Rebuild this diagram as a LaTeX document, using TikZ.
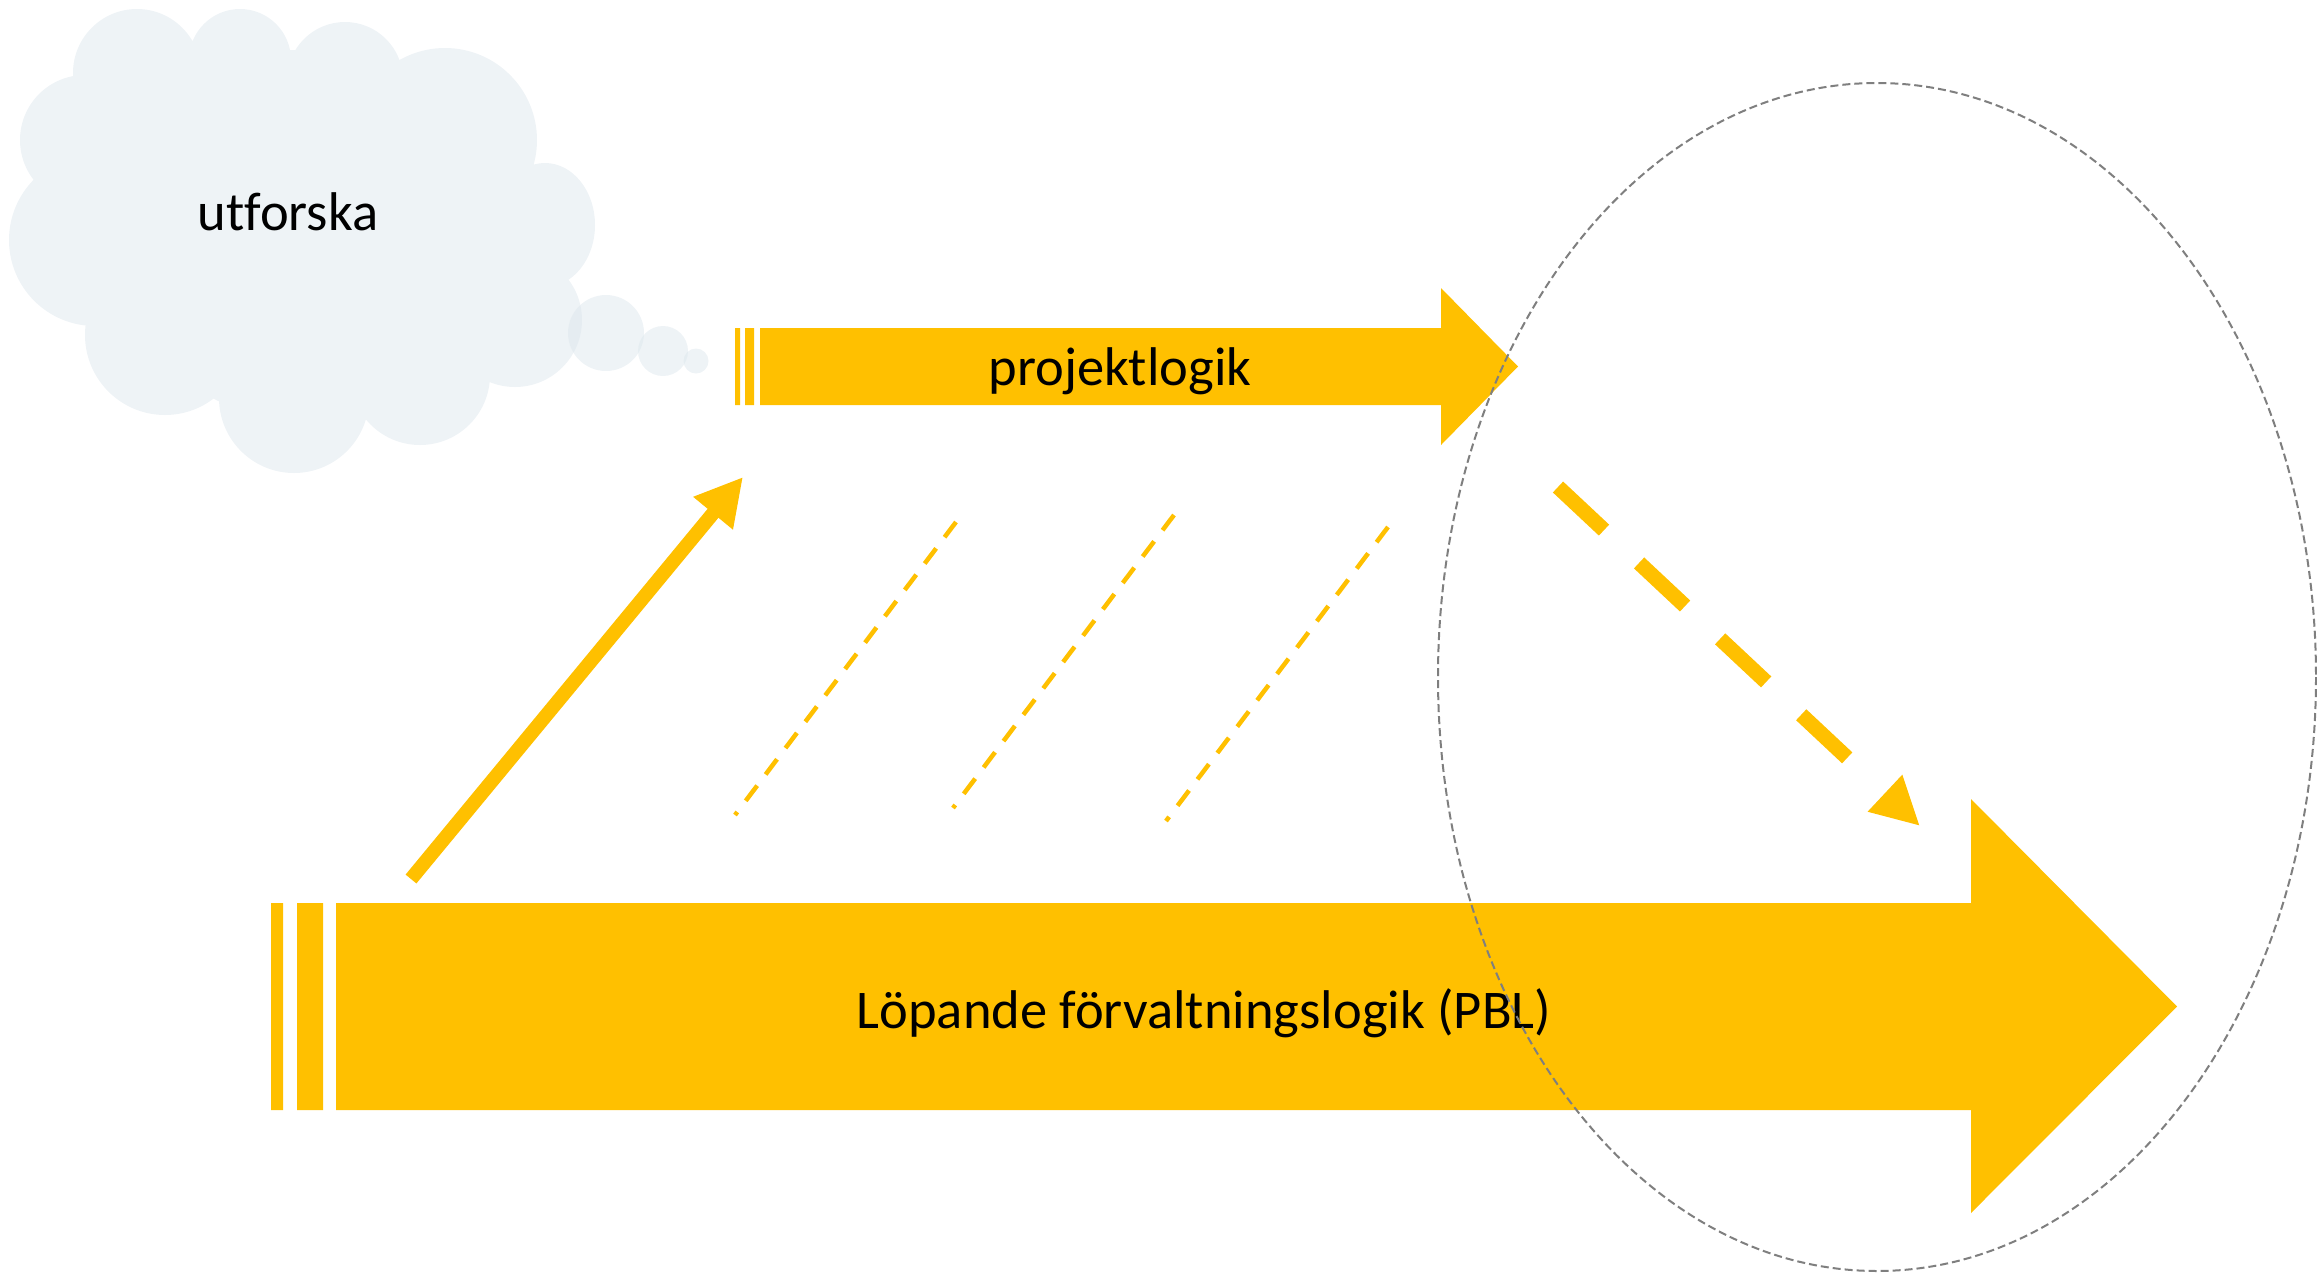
\documentclass[tikz,border=0pt]{standalone}
\usepackage{fontspec}
\setmainfont{Carlito}[Ligatures=CommonOff]
\usetikzlibrary{arrows.meta}
\definecolor{gold}{HTML}{FFC000}
\definecolor{cloudgrey}{HTML}{EEF3F6}
\definecolor{bubblegrey}{HTML}{DDE7ED}
\definecolor{ringgrey}{HTML}{7F7F7F}
\begin{document}
\begin{tikzpicture}[x=0.01cm,y=-0.01cm,
    lbl/.style={font=\fontsize{15.5}{18}\selectfont},
    bubble/.style={fill=bubblegrey,opacity=0.5},
    hatch/.style={gold,line width=0.045cm,dash pattern=on 0.19cm off 0.14cm}]
    \useasboundingbox (0,0) rectangle (2317,1275);
    \fill[cloudgrey] (137,73) circle[radius=64] (240,60) circle[radius=51] (345,80) circle[radius=58]
        (445,140) circle[radius=92] (545,225) ellipse[x radius=50,y radius=62] (515,320) circle[radius=67]
        (420,375) circle[radius=70] (294,398) circle[radius=75] (165,335) circle[radius=80]
        (95,240) circle[radius=86] (85,140) circle[radius=65] (300,235) circle[radius=185] (450,250) circle[radius=100];
    \fill[bubble] (606,333) circle[radius=38];
    \fill[bubble] (663,351) circle[radius=25];
    \fill[bubble] (696,361) circle[radius=12.5];
    \node[lbl] (utf) at (288,212) {utforska};
    \fill[gold] (735,328) rectangle (740,405) (745,328) rectangle (754,405);
    \fill[gold] (760,328) -- (1441,328) -- (1441,288) -- (1518,366.5) -- (1441,445) -- (1441,405) -- (760,405) -- cycle;
    \node[lbl] (proj) at (1120,371) {projektlogik};
    \fill[gold] (271,903) rectangle (283,1110) (297,903) rectangle (323,1110);
    \fill[gold] (336,903) -- (1971,903) -- (1971,799) -- (2177,1006.5) -- (1971,1213) -- (1971,1110) -- (336,1110) -- cycle;
    \node[lbl] (pbl) at (1204,1013) {Löpande förvaltningslogik (PBL)};
    \coordinate (up0) at (411,879);
    \coordinate (up1) at (743,477);
    \draw[gold,line width=0.14cm,-{Triangle[length=0.47cm,width=0.48cm]}] (up0) -- (up1);
    \coordinate (h1a) at (956,522); \coordinate (h1b) at (735,815);
    \coordinate (h2a) at (1174,515); \coordinate (h2b) at (953,808);
    \coordinate (h3a) at (1388,527); \coordinate (h3b) at (1166,821);
    \draw[hatch] (h1a) -- (h1b);
    \draw[hatch] (h2a) -- (h2b);
    \draw[hatch] (h3a) -- (h3b);
    \coordinate (down0) at (1558,487);
    \coordinate (down1) at (1920,826);
    \draw[gold,line width=0.15cm,dash pattern=on 0.63cm off 0.48cm on 0.63cm off 0.48cm on 0.63cm off 0.48cm on 0.63cm off 2cm,
        -{Triangle[length=0.48cm,width=0.47cm]}] (down0) -- (down1);
    \draw[ringgrey,line width=0.02cm,dash pattern=on 0.08cm off 0.04cm] (1877,677) ellipse[x radius=439,y radius=594];
\end{tikzpicture}
\end{document}
